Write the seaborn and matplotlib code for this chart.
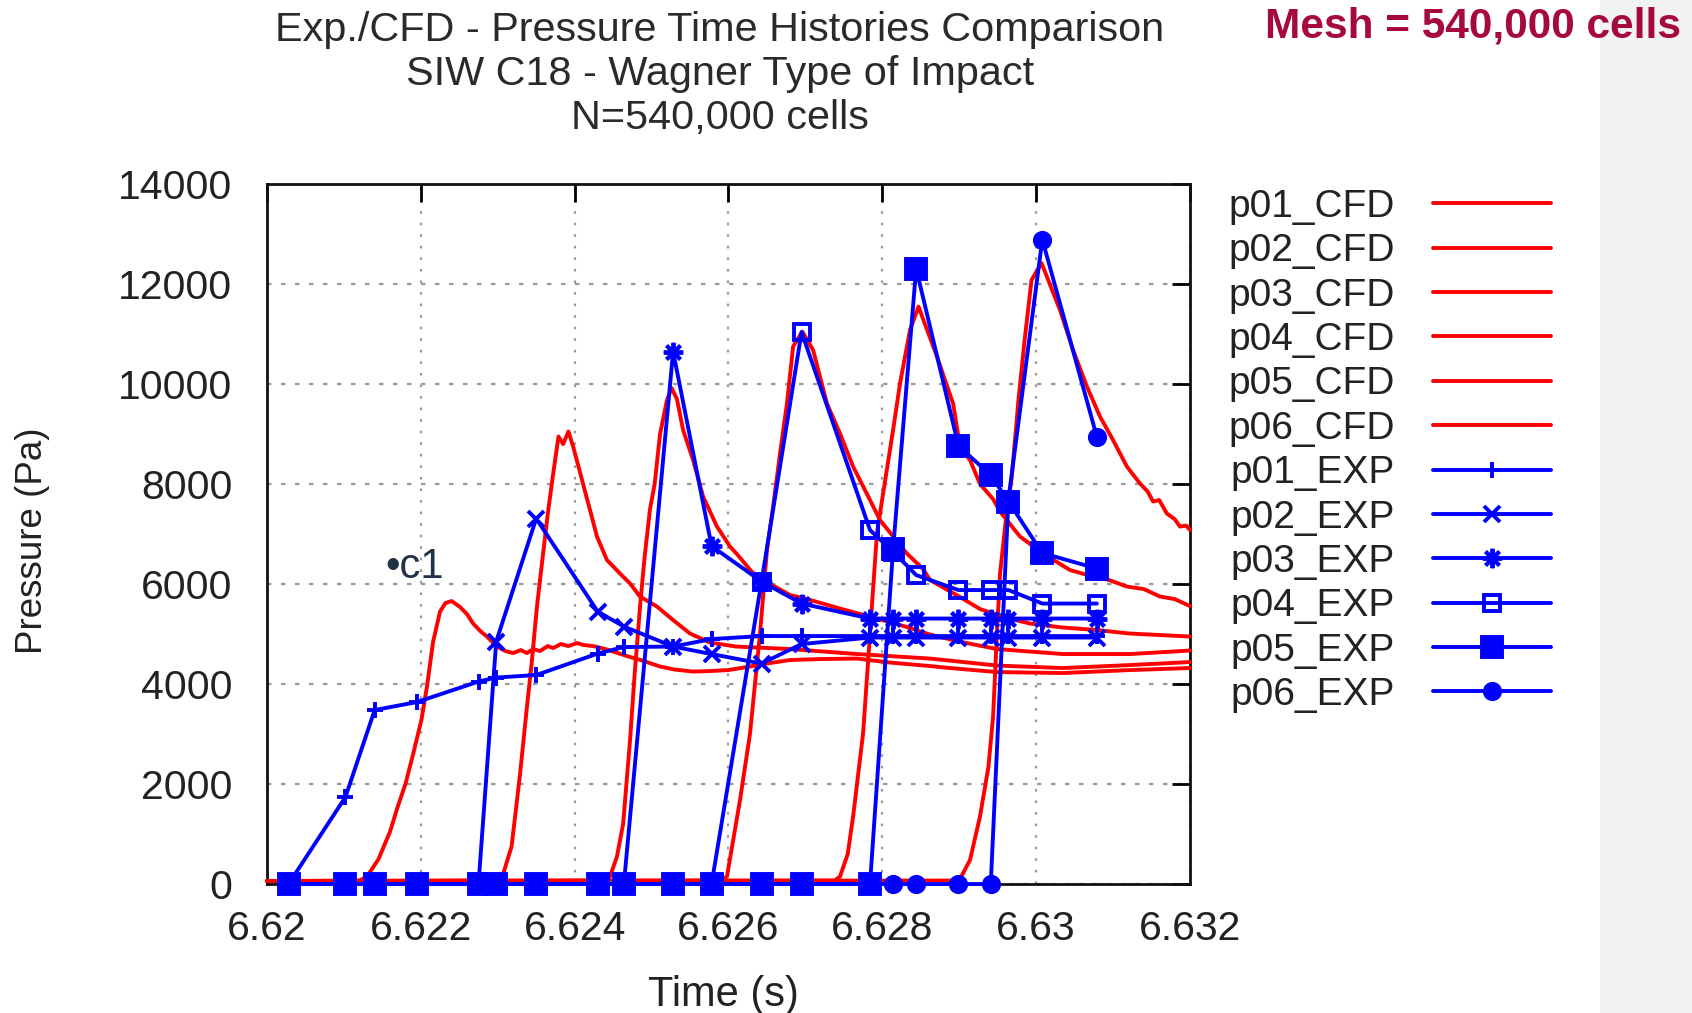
import matplotlib
matplotlib.use('Agg')
import matplotlib.pyplot as plt
from matplotlib.patches import Rectangle
import seaborn as sns

# ---- data ----
title_lines = ['Exp./CFD - Pressure Time Histories Comparison',
               'SIW C18 - Wagner Type of Impact',
               'N=540,000 cells']
mesh_note = 'Mesh = 540,000 cells'

x_ticks = [6.62, 6.622, 6.624, 6.626, 6.628, 6.63, 6.632]
x_ticklabels = ['6.62', '6.622', '6.624', '6.626', '6.628', '6.63', '6.632']
y_ticks = [0, 2000, 4000, 6000, 8000, 10000, 12000, 14000]

# experimental sampling times (s), shared by all EXP probes
exp_time = [6.62028, 6.62102, 6.62140, 6.62195, 6.62275, 6.62298, 6.62350,
            6.62430, 6.62464, 6.62528, 6.62578, 6.62643, 6.62695, 6.62784,
            6.62814, 6.62844, 6.62899, 6.62941, 6.62964, 6.63008, 6.63079]
p01_exp = [0, 1740, 3480, 3640, 4050, 4130, 4180, 4610, 4740, 4750, 4900,
           4960, 4960, 4960, 4960, 4960, 4960, 4960, 4960, 4960, 4960]
p02_exp = [0, 0, 0, 0, 0, 4850, 7310, 5450, 5150, 4750, 4600,
           4410, 4800, 4930, 4930, 4930, 4930, 4930, 4930, 4930, 4930]
p03_exp = [0, 0, 0, 0, 0, 0, 0, 0, 0, 10650, 6760,
           6050, 5610, 5310, 5310, 5310, 5310, 5310, 5310, 5310, 5310]
p04_exp = [0, 0, 0, 0, 0, 0, 0, 0, 0, 0, 0,
           6050, 11040, 7080, 6650, 6180, 5880, 5880, 5880, 5610, 5610]
p05_exp = [0, 0, 0, 0, 0, 0, 0, 0, 0, 0, 0,
           0, 0, 0, 6700, 12310, 8760, 8180, 7650, 6620, 6310]
p06_exp = [0, 0, 0, 0, 0, 0, 0, 0, 0, 0, 0,
           0, 0, 0, 0, 0, 0, 0, 7700, 12890, 8940]

# CFD probes (time s, pressure Pa)
p01_cfd_t = [6.6200, 6.6212, 6.6213, 6.62145, 6.6216, 6.6217, 6.6218, 6.6219,
             6.62201, 6.62208, 6.62216, 6.62225, 6.62232, 6.62240, 6.62251,
             6.62260, 6.62268, 6.62278, 6.62286, 6.62299, 6.62310, 6.62320,
             6.62330, 6.62338, 6.62346, 6.62355, 6.62365, 6.62372, 6.62382,
             6.62392, 6.62403, 6.62412, 6.62424, 6.62440, 6.62468, 6.62490,
             6.62511, 6.62530, 6.62554, 6.62576, 6.62600, 6.62620, 6.62645,
             6.62680, 6.62720, 6.62767, 6.62810, 6.62862, 6.62888, 6.62949,
             6.63035, 6.63122, 6.6320]
p01_cfd_p = [60, 70, 150, 500, 1050, 1550, 2000, 2600,
             3300, 3950, 4850, 5450, 5620, 5660, 5540,
             5400, 5210, 5050, 4950, 4750, 4660, 4620,
             4680, 4620, 4700, 4660, 4760, 4720, 4800,
             4760, 4820, 4780, 4760, 4700, 4560, 4460,
             4350, 4290, 4250, 4260, 4280, 4330, 4400,
             4480, 4500, 4510, 4430, 4360, 4320, 4240,
             4220, 4280, 4320]

p02_cfd_t = [6.6200, 6.62300, 6.62307, 6.62318, 6.62329, 6.62338, 6.62344,
             6.62351, 6.62357, 6.62365, 6.62372, 6.62379, 6.62385, 6.62392,
             6.62398, 6.62405, 6.62413, 6.62420, 6.62429, 6.62442, 6.62459,
             6.62472, 6.62485, 6.62507, 6.62528, 6.62550, 6.62576, 6.62610,
             6.62680, 6.62767, 6.62862, 6.62949, 6.63035, 6.63122, 6.6320]
p02_cfd_p = [60, 70, 200, 750, 2200, 3550, 4400,
             5550, 6350, 7400, 8200, 8950, 8800, 9050,
             8750, 8350, 7880, 7480, 6950, 6480, 6210,
             6010, 5750, 5550, 5280, 5010, 4830, 4750,
             4700, 4600, 4510, 4370, 4320, 4380, 4440]

p03_cfd_t = [6.6200, 6.62440, 6.62446, 6.62455, 6.62463, 6.62472, 6.62478,
             6.62485, 6.62491, 6.62498, 6.62504, 6.62511, 6.62520, 6.62526,
             6.62533, 6.62541, 6.62554, 6.62567, 6.62585, 6.62602, 6.62611,
             6.62630, 6.62645, 6.62680, 6.62702, 6.62745, 6.62788, 6.62830,
             6.62862, 6.62900, 6.62949, 6.63035, 6.63122, 6.6320]
p03_cfd_p = [60, 70, 150, 550, 1200, 2880, 4200,
             5550, 6550, 7500, 8000, 9000, 9680, 9920,
             9700, 9080, 8480, 7750, 7150, 6750, 6600,
             6250, 6080, 5780, 5700, 5510, 5330, 5150,
             4990, 4850, 4700, 4600, 4600, 4670]

p04_cfd_t = [6.6200, 6.62590, 6.62598, 6.62615, 6.62628, 6.62641, 6.62650,
             6.62658, 6.62667, 6.62676, 6.62684, 6.62696, 6.62710, 6.62728,
             6.62745, 6.62762, 6.62784, 6.62797, 6.62832, 6.62853, 6.62862,
             6.62900, 6.62927, 6.62960, 6.62992, 6.63035, 6.63079, 6.63122,
             6.6320]
p04_cfd_p = [60, 70, 150, 1680, 3010, 5010, 6680,
             7550, 8610, 9610, 10750, 11050, 10680, 9610,
             9010, 8350, 7680, 7280, 6610, 6300, 6080,
             5750, 5500, 5330, 5210, 5130, 5080, 5010,
             4950]

p05_cfd_t = [6.6200, 6.62738, 6.62745, 6.62755, 6.62762, 6.62775, 6.62784,
             6.62793, 6.62801, 6.62814, 6.62823, 6.62836, 6.62847, 6.62871,
             6.62892, 6.62901, 6.62914, 6.62927, 6.62944, 6.62953, 6.62979,
             6.63009, 6.63044, 6.63074, 6.63095, 6.63118, 6.63140, 6.63161,
             6.63180, 6.6320]
p05_cfd_p = [60, 70, 150, 600, 1350, 3010, 5010,
             7010, 7810, 9080, 10010, 11080, 11550, 10550,
             9610, 8750, 8480, 8000, 7700, 7450, 6950,
             6610, 6280, 6150, 6080, 5950, 5900, 5750,
             5700, 5560]

p06_cfd_t = [6.6200, 6.62895, 6.62901, 6.62914, 6.62927, 6.62938, 6.62944,
             6.62949, 6.62953, 6.62960, 6.62968, 6.62977, 6.62985, 6.62994,
             6.63007, 6.63031, 6.63048, 6.63066, 6.63083, 6.63100, 6.63118,
             6.63135, 6.63145, 6.63152, 6.63160, 6.63170, 6.63180, 6.63187,
             6.63195, 6.6320]
p06_cfd_p = [60, 70, 100, 480, 1350, 2350, 3350,
             5010, 6200, 7200, 8100, 9680, 10880, 12080,
             12420, 11480, 10680, 9950, 9350, 8880, 8350,
             8010, 7850, 7650, 7680, 7410, 7300, 7150,
             7170, 7080]

cfd_series = [('p01_CFD', p01_cfd_t, p01_cfd_p), ('p02_CFD', p02_cfd_t, p02_cfd_p),
              ('p03_CFD', p03_cfd_t, p03_cfd_p), ('p04_CFD', p04_cfd_t, p04_cfd_p),
              ('p05_CFD', p05_cfd_t, p05_cfd_p), ('p06_CFD', p06_cfd_t, p06_cfd_p)]
exp_series = [('p01_EXP', p01_exp), ('p02_EXP', p02_exp), ('p03_EXP', p03_exp),
              ('p04_EXP', p04_exp), ('p05_EXP', p05_exp), ('p06_EXP', p06_exp)]

# marker styles for the EXP probes (gnuplot point types)
exp_markers = {
    'p01_EXP': dict(marker='+', ms=11, mfc='#0000ff'),
    'p02_EXP': dict(marker='x', ms=11, mfc='#0000ff'),
    'p03_EXP': dict(marker=(8, 2, 0), ms=14, mfc='#0000ff'),
    'p04_EXP': dict(marker='s', ms=11, mfc='none'),
    'p05_EXP': dict(marker='s', ms=14, mfc='#0000ff'),
    'p06_EXP': dict(marker='o', ms=11, mfc='#0000ff'),
}

# ---- figure ----
sns.set_style('white')
plt.rcParams['font.family'] = ['Liberation Sans', 'DejaVu Sans']

fig = plt.figure(figsize=(16.92, 10.13), dpi=100)
fig.patches.append(Rectangle((0.9456, 0), 0.0544, 1, transform=fig.transFigure,
                             facecolor='#f2f2f2', edgecolor='none', zorder=0))
ax = fig.add_axes([0.1578, 0.1273, 0.5455, 0.691])

red = '#ff0000'
blue = '#0000ff'

for name, t, p in cfd_series:
    sns.lineplot(x=t, y=p, ax=ax, color=red, lw=2.8, label=name,
                 estimator=None, sort=False, clip_on=False, zorder=3)

for name, p in exp_series:
    sns.lineplot(x=exp_time, y=p, ax=ax, color=blue, lw=2.8, label=name,
                 mec=blue, mew=2.8, estimator=None, sort=False,
                 clip_on=False, zorder=4, **exp_markers[name])

ax.set_xlim(6.62, 6.632)
ax.set_ylim(0, 14000)
ax.set_xticks(x_ticks)
ax.set_xticklabels(x_ticklabels)
ax.set_yticks(y_ticks)
ax.tick_params(direction='in', length=13, width=2, top=True, right=True,
               labelsize=29.5, colors='black', labelcolor='#222222')
ax.tick_params(axis='y', pad=25)
ax.tick_params(axis='x', pad=19)

ax.set_axisbelow(True)
ax.xaxis.grid(True, color='#9a9a9a', linestyle=(0, (1.2, 4)), linewidth=1.6)
ax.yaxis.grid(True, color='#9a9a9a', linestyle=(0, (2, 4.3)), linewidth=1.6)
for sp in ax.spines.values():
    sp.set_linewidth(2)
    sp.set_color('#111111')

ax.set_xlabel('Time (s)', fontsize=30, color='#222222', va='center')
ax.xaxis.set_label_coords(0.494, -0.1586)
ax.set_ylabel('Pressure (Pa)', fontsize=26.5, color='#222222', va='center')
ax.yaxis.set_label_coords(-0.2546, 0.491)

handles, labels = ax.get_legend_handles_labels()
ax.legend(handles, labels, loc='upper left', bbox_to_anchor=(1228 / 1692, 1 - 189 / 1013),
          bbox_transform=fig.transFigure, frameon=False, markerfirst=False,
          fontsize=28, handlelength=3.03, handletextpad=1.0, labelspacing=0.215,
          borderpad=0, borderaxespad=0, labelcolor='#222222')

title_y = [30, 74, 118]
for line, yy in zip(title_lines, title_y):
    fig.text(720 / 1692, 1 - yy / 1013, line, ha='center', va='center',
             fontsize=29.8, color='#2a2a2a')

fig.text(1681 / 1692, 1 - 26 / 1013, mesh_note, ha='right', va='center',
         fontsize=30.5, fontweight='bold', color='#a6093d')
fig.text(385 / 1692, 1 - 567 / 1013, '\u2022c1', ha='left', va='center',
         fontsize=30, color='#1f3247')

fig.savefig('out.png', dpi=100)
